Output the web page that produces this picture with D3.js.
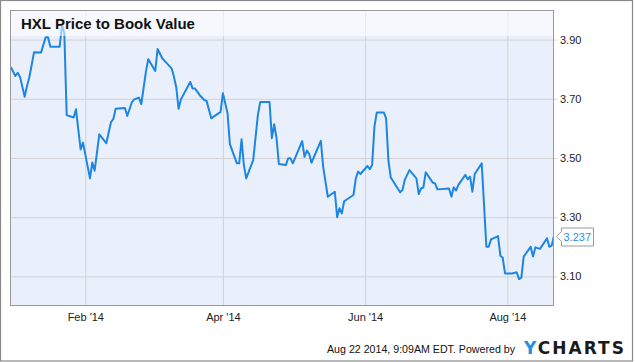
<!DOCTYPE html>
<html>
<head>
<meta charset="utf-8">
<script src="https://cdn.jsdelivr.net/npm/d3@7"></script>
<style>
  body { margin: 0; background: #fff; }
  svg { display: block; font-family: "Liberation Sans", Arial, sans-serif; }
</style>
</head>
<body>
<svg id="chart" width="635" height="362"></svg>
<script>
"use strict";

// HXL price to book value, daily readings
var dates = ["2013-12-31","2014-01-02","2014-01-03","2014-01-04","2014-01-06","2014-01-07","2014-01-08","2014-01-10","2014-01-13","2014-01-15",
  "2014-01-16","2014-01-17","2014-01-21","2014-01-22","2014-01-23","2014-01-24","2014-01-27","2014-01-28","2014-01-29","2014-01-30",
  "2014-01-31","2014-02-03","2014-02-04","2014-02-05","2014-02-07","2014-02-10","2014-02-12","2014-02-13","2014-02-14","2014-02-18",
  "2014-02-19","2014-02-21","2014-02-22","2014-02-24","2014-02-25","2014-02-27","2014-02-28","2014-03-03","2014-03-04","2014-03-06",
  "2014-03-07","2014-03-10","2014-03-11","2014-03-12","2014-03-13","2014-03-14","2014-03-18","2014-03-19","2014-03-20","2014-03-22",
  "2014-03-24","2014-03-25","2014-03-27","2014-03-31","2014-04-01","2014-04-02","2014-04-03","2014-04-04","2014-04-07","2014-04-08",
  "2014-04-09","2014-04-10","2014-04-11","2014-04-14","2014-04-16","2014-04-17","2014-04-21","2014-04-22","2014-04-23","2014-04-24",
  "2014-04-25","2014-04-28","2014-04-29","2014-04-30","2014-05-01","2014-05-05","2014-05-06","2014-05-07","2014-05-08","2014-05-09",
  "2014-05-13","2014-05-14","2014-05-16","2014-05-19","2014-05-20","2014-05-21","2014-05-22","2014-05-23","2014-05-27","2014-05-28",
  "2014-05-29","2014-05-30","2014-06-02","2014-06-03","2014-06-04","2014-06-05","2014-06-06","2014-06-09","2014-06-10","2014-06-11",
  "2014-06-12","2014-06-16","2014-06-17","2014-06-18","2014-06-20","2014-06-23","2014-06-24","2014-06-25","2014-06-26","2014-06-27",
  "2014-06-30","2014-07-01","2014-07-02","2014-07-07","2014-07-08","2014-07-09","2014-07-10","2014-07-11","2014-07-14","2014-07-15",
  "2014-07-16","2014-07-17","2014-07-18","2014-07-21","2014-07-23","2014-07-24","2014-07-25","2014-07-28","2014-07-29","2014-07-30",
  "2014-07-31","2014-08-03","2014-08-05","2014-08-06","2014-08-07","2014-08-08","2014-08-11","2014-08-12","2014-08-13","2014-08-15",
  "2014-08-18","2014-08-19","2014-08-20","2014-08-21"];

var values = [3.808,3.777,3.788,3.774,3.707,3.743,3.773,3.857,3.856,3.908,
  3.908,3.876,3.876,3.949,3.921,3.645,3.637,3.665,3.595,3.529,
  3.552,3.431,3.485,3.457,3.580,3.550,3.621,3.631,3.666,3.669,
  3.642,3.689,3.698,3.704,3.682,3.792,3.834,3.794,3.868,3.837,
  3.828,3.803,3.775,3.739,3.666,3.698,3.757,3.735,3.735,3.713,
  3.696,3.693,3.634,3.656,3.719,3.685,3.651,3.547,3.482,3.482,
  3.563,3.476,3.431,3.493,3.645,3.689,3.689,3.567,3.614,3.567,
  3.480,3.476,3.499,3.499,3.482,3.557,3.504,3.525,3.514,3.484,
  3.558,3.471,3.369,3.386,3.300,3.330,3.313,3.354,3.375,3.431,
  3.454,3.446,3.473,3.462,3.476,3.606,3.654,3.654,3.634,3.490,
  3.434,3.384,3.392,3.426,3.459,3.431,3.378,3.397,3.401,3.452,
  3.417,3.414,3.394,3.397,3.369,3.401,3.390,3.409,3.443,3.428,
  3.437,3.386,3.446,3.482,3.200,3.200,3.225,3.236,3.170,3.163,
  3.110,3.110,3.114,3.091,3.096,3.167,3.200,3.167,3.198,3.193,
  3.229,3.200,3.204,3.237];

// axis ticks
var yTicks = [3.10, 3.30, 3.50, 3.70, 3.90];
var xTicks = ["2014-02-01", "2014-04-01", "2014-06-01", "2014-08-01"];

var title = "HXL Price to Book Value";
var footer = "Aug 22 2014, 9:09AM EDT.  Powered by";

var parse = d3.timeParse("%Y-%m-%d");
var data = dates.map(function (d, i) {
  return { date: parse(d), value: values[i] };
});

// plot box
var plot = { left: 10, top: 10, right: 554, bottom: 306 };
var font = "'Liberation Sans', Arial, sans-serif";

var x = d3.scaleTime()
  .domain([parse("2013-12-31"), parse("2014-08-21")])
  .range([plot.left + 0.7, plot.right]);
var y = d3.scaleLinear().domain([3.0, 4.0]).range([plot.bottom, plot.top]);

var svg = d3.select("#chart");

// outer frame
svg.append("rect")
  .attr("x", 0.5).attr("y", 0.5).attr("width", 632).attr("height", 360.5)
  .attr("fill", "#fff").attr("stroke", "#8a8a8a").attr("stroke-width", 1.2);

// plot background
svg.append("rect")
  .attr("x", plot.left).attr("y", plot.top)
  .attr("width", plot.right - plot.left).attr("height", plot.bottom - plot.top)
  .attr("fill", "#eaf0fb");

svg.append("clipPath").attr("id", "clip").append("rect")
  .attr("x", plot.left).attr("y", plot.top)
  .attr("width", plot.right - plot.left).attr("height", plot.bottom - plot.top);

// horizontal grid + right axis
var yAxis = d3.axisRight(y)
  .tickValues(yTicks)
  .tickSize(-(plot.right - plot.left))
  .tickPadding(6)
  .tickFormat(d3.format(".2f"));

var gy = svg.append("g").attr("class", "y axis")
  .attr("transform", "translate(" + (plot.right + 3) + ",0)")
  .call(yAxis)
  .attr("font-family", font);
gy.select(".domain").remove();
gy.selectAll("line").attr("stroke", "#d2d2d2").attr("x2", -(plot.right - plot.left + 3));
gy.selectAll("text").attr("fill", "#222").attr("font-size", "11px").attr("x", 3);

// vertical grid + bottom axis labels
var xAxis = d3.axisBottom(x)
  .tickValues(xTicks.map(parse))
  .tickSize(-(plot.bottom - plot.top))
  .tickPadding(6)
  .tickFormat(d3.timeFormat("%b '%y"));

var gx = svg.append("g").attr("class", "x axis")
  .attr("transform", "translate(0," + plot.bottom + ")")
  .call(xAxis)
  .attr("font-family", font);
gx.select(".domain").remove();
gx.selectAll("line").attr("stroke", "#d2d2d2");
gx.selectAll("text").attr("fill", "#222").attr("font-size", "11px").attr("y", 7);

// the series line
var line = d3.line()
  .x(function (d) { return x(d.date); })
  .y(function (d) { return y(d.value); });

svg.append("path")
  .datum(data)
  .attr("clip-path", "url(#clip)")
  .attr("fill", "none")
  .attr("stroke", "#1c86e2")
  .attr("stroke-width", 2)
  .attr("stroke-linejoin", "round")
  .attr("d", line);

// pale band behind the title
svg.append("rect")
  .attr("x", plot.left).attr("y", plot.top)
  .attr("width", plot.right - plot.left).attr("height", 26)
  .attr("fill", "#fff").attr("opacity", 0.55);

// plot border
svg.append("rect")
  .attr("x", plot.left + 0.5).attr("y", plot.top + 0.5)
  .attr("width", plot.right - plot.left - 1).attr("height", plot.bottom - plot.top - 1)
  .attr("fill", "none").attr("stroke", "#9a9a9a");

svg.append("text")
  .attr("x", 21).attr("y", 29)
  .attr("font-size", "15px").attr("font-weight", "bold").attr("fill", "#111")
  .text(title);

// last value flag
var last = data[data.length - 1];
var ly = Math.round(y(last.value)) + 0.5;
var fx = plot.right + 2.5;
svg.append("path")
  .attr("d", "M" + fx + "," + ly + " L" + (fx + 5) + "," + (ly - 5) + " V" + (ly - 8.5) +
    " H" + (fx + 37) + " V" + (ly + 9.5) + " H" + (fx + 5) + " V" + (ly + 5) + " Z")
  .attr("fill", "#fff").attr("stroke", "#999");
svg.append("text")
  .attr("x", fx + 7).attr("y", ly + 4)
  .attr("font-size", "11px").attr("fill", "#2a8ee0")
  .text(d3.format(".3f")(last.value));

// footer
svg.append("text")
  .attr("x", 327).attr("y", 353)
  .attr("font-size", "11px").attr("fill", "#111")
  .attr("textLength", 188).attr("lengthAdjust", "spacingAndGlyphs")
  .text(footer);

var logo = svg.append("text")
  .attr("x", 524).attr("y", 354)
  .attr("font-size", "17px").attr("font-weight", "bold")
  .attr("font-family", "'DejaVu Sans', sans-serif")
  .attr("textLength", 100).attr("lengthAdjust", "spacing");
logo.append("tspan").attr("fill", "#1f8fe8").text("Y");
logo.append("tspan").attr("fill", "#1b1b1b").text("CHARTS");
</script>
</body>
</html>
